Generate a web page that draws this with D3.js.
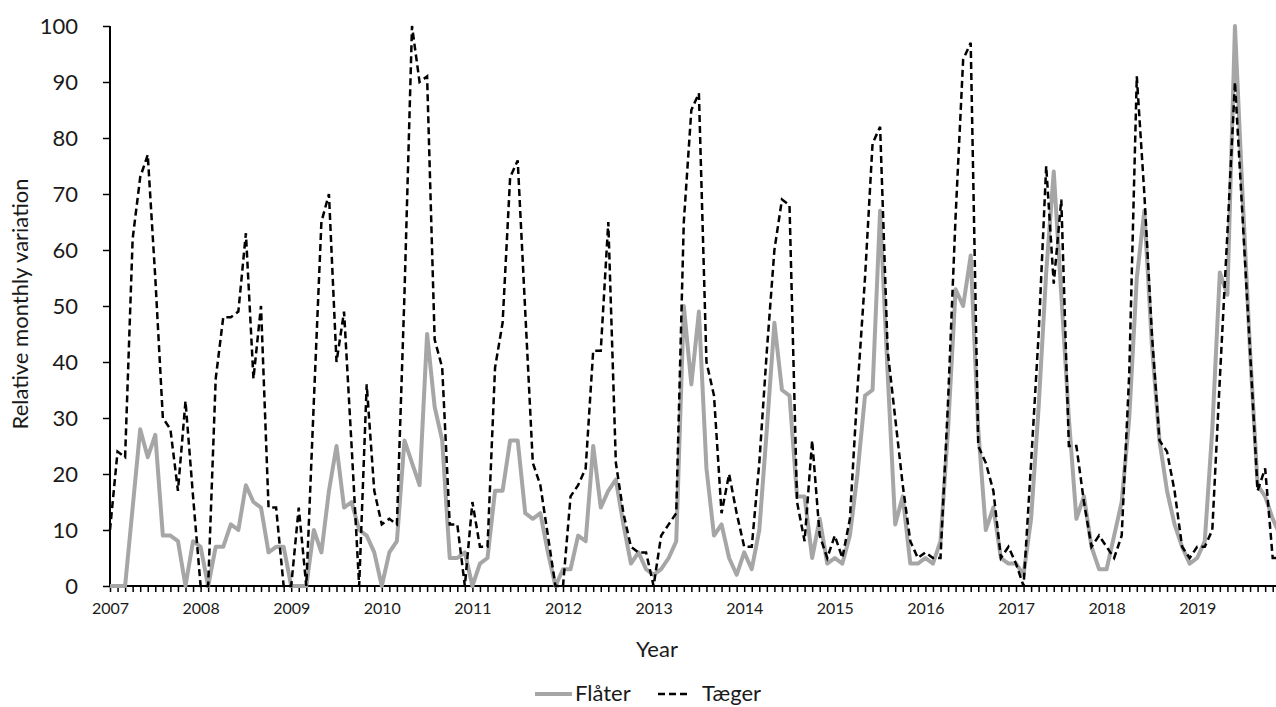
<!DOCTYPE html>
<html>
<head>
<meta charset="utf-8">
<script src="https://cdn.jsdelivr.net/npm/d3@7"></script>
<style>
  body { margin: 0; background: #fff; }
  svg text { font-family: Lato, "Open Sans", sans-serif; fill: #1a1a1a; }
</style>
</head>
<body>
<svg id="graphContainer" width="1276" height="707"></svg>
<script>
// years on the axis, one label every 12 months
let years = [2007, 2008, 2009, 2010, 2011, 2012, 2013, 2014, 2015, 2016, 2017, 2018, 2019];

// monthly values, Jan..Dec for each year
let flaterValues = [
  0, 0, 0, 14, 28, 23, 27, 9, 9, 8, 0, 8,          // 2007
  7, 0, 7, 7, 11, 10, 18, 15, 14, 6, 7, 7,         // 2008
  0, 0, 0, 10, 6, 17, 25, 14, 15, 10, 9, 6,        // 2009
  0, 6, 8, 26, 22, 18, 45, 32, 26, 5, 5, 6,        // 2010
  0, 4, 5, 17, 17, 26, 26, 13, 12, 13, 6, 0,       // 2011
  3, 3, 9, 8, 25, 14, 17, 19, 11, 4, 6, 3,         // 2012
  2, 3, 5, 8, 50, 36, 49, 21, 9, 11, 5, 2,         // 2013
  6, 3, 10, 28, 47, 35, 34, 16, 16, 5, 12, 4,      // 2014
  5, 4, 9, 20, 34, 35, 67, 38, 11, 16, 4, 4,       // 2015
  5, 4, 8, 28, 53, 50, 59, 28, 10, 14, 5, 4,       // 2016
  4, 2, 12, 32, 56, 74, 52, 30, 12, 16, 7, 3,      // 2017
  3, 9, 15, 30, 55, 67, 43, 26, 17, 11, 7, 4,      // 2018
  5, 8, 28, 56, 52, 100, 70, 42, 18, 16, 12, 9     // 2019
];

let taegerValues = [
  10, 24, 23, 62, 73, 77, 55, 30, 28, 17, 33, 16,  // 2007
  0, 0, 37, 48, 48, 49, 63, 37, 50, 14, 14, 0,     // 2008
  0, 14, 0, 33, 65, 70, 40, 49, 25, 0, 36, 17,     // 2009
  11, 12, 11, 52, 100, 90, 91, 44, 39, 11, 11, 0,  // 2010
  15, 7, 7, 39, 47, 73, 76, 49, 22, 18, 9, 0,      // 2011
  0, 16, 18, 21, 42, 42, 65, 22, 13, 7, 6, 6,      // 2012
  0, 9, 11, 13, 65, 85, 88, 40, 34, 13, 20, 13,    // 2013
  7, 7, 22, 42, 60, 69, 68, 15, 8, 26, 9, 5,       // 2014
  9, 5, 12, 35, 55, 79, 82, 42, 30, 18, 8, 5,      // 2015
  6, 5, 5, 33, 66, 94, 97, 25, 22, 17, 5, 7,       // 2016
  4, 0, 22, 45, 75, 54, 69, 25, 25, 15, 7, 9,      // 2017
  7, 5, 9, 38, 91, 70, 45, 26, 24, 17, 7, 5,       // 2018
  7, 7, 10, 37, 63, 90, 66, 42, 17, 21, 5, 5       // 2019
];

let yTicks = [0, 10, 20, 30, 40, 50, 60, 70, 80, 90, 100];

// set the dimensions of the plot area
let plotLeft = 110, plotTop = 26, plotBottom = 586, step = 7.55;
let n = flaterValues.length;

let svg = d3.select("#graphContainer");

let x = d3.scaleLinear()
  .domain([0, n - 1])
  .range([plotLeft, plotLeft + (n - 1) * step]);

let y = d3.scaleLinear()
  .domain([0, 100])
  .range([plotBottom, plotTop]);

// X axis: a small tick every month, a year label every 12
let xAxis = svg.append("g")
  .attr("transform", "translate(0," + plotBottom + ")")
  .call(d3.axisBottom(x)
    .tickValues(d3.range(0, n))
    .tickSize(6)
    .tickFormat(function(i) { return i % 12 == 0 ? years[i / 12] : ""; }));
xAxis.select(".domain").attr("d", "M" + plotLeft + ",0H1276").attr("stroke", "#000").attr("stroke-width", 2);
xAxis.selectAll(".tick line").attr("stroke", "#000").attr("stroke-width", 1.5);
xAxis.selectAll(".tick text")
  .attr("y", 17)
  .style("font-size", "16px");

// Y axis
let yAxis = svg.append("g")
  .attr("transform", "translate(" + plotLeft + ",0)")
  .call(d3.axisLeft(y).tickValues(yTicks).tickSize(7).tickPadding(25));
yAxis.select(".domain").attr("d", "M0," + plotBottom + "V" + plotTop).attr("stroke", "#000").attr("stroke-width", 2);
yAxis.selectAll(".tick line").attr("stroke", "#000").attr("stroke-width", 1.5);
yAxis.selectAll(".tick text").style("font-size", "22px");

// lines
let line = d3.line()
  .x(function(d, i) { return x(i); })
  .y(function(d) { return y(d); });

svg.append("path")
  .datum(flaterValues)
  .attr("fill", "none")
  .attr("stroke", "#a6a6a6")
  .attr("stroke-width", 4)
  .attr("stroke-linejoin", "round")
  .attr("d", line);

svg.append("path")
  .datum(taegerValues)
  .attr("fill", "none")
  .attr("stroke", "#000")
  .attr("stroke-width", 2.5)
  .attr("stroke-dasharray", "7,4")
  .attr("d", line);

// axis titles
svg.append("text")
  .attr("transform", "translate(28,304) rotate(-90)")
  .attr("text-anchor", "middle")
  .style("font-size", "22px")
  .text("Relative  monthly variation");

svg.append("text")
  .attr("x", 657)
  .attr("y", 657)
  .attr("text-anchor", "middle")
  .style("font-size", "22px")
  .text("Year");

// legend
let legend = svg.append("g");
legend.append("line")
  .attr("x1", 535).attr("x2", 572).attr("y1", 694).attr("y2", 694)
  .attr("stroke", "#a6a6a6").attr("stroke-width", 4);
legend.append("text")
  .attr("x", 575).attr("y", 701)
  .style("font-size", "22px")
  .text("Flåter");
legend.append("line")
  .attr("x1", 658).attr("x2", 691).attr("y1", 694).attr("y2", 694)
  .attr("stroke", "#000").attr("stroke-width", 2.5)
  .attr("stroke-dasharray", "7,4");
legend.append("text")
  .attr("x", 702).attr("y", 701)
  .style("font-size", "22px")
  .text("Tæger");
</script>
</body>
</html>
